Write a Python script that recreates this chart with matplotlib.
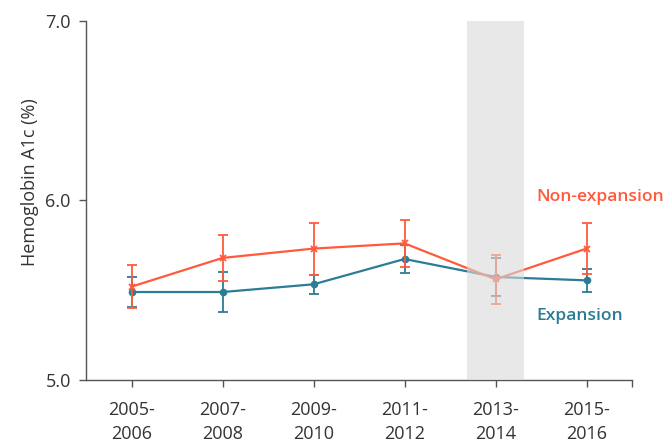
import matplotlib
matplotlib.use("Agg")
import matplotlib.pyplot as plt
import numpy as np

plt.rcParams['font.family'] = ['Open Sans', 'DejaVu Sans']

periods = ["2005-\n2006", "2007-\n2008", "2009-\n2010", "2011-\n2012", "2013-\n2014", "2015-\n2016"]

expansion = [5.49, 5.49, 5.533, 5.674, 5.574, 5.555]
expansion_err = [0.085, 0.11, 0.054, 0.08, 0.107, 0.065]

non_expansion = [5.52, 5.68, 5.732, 5.761, 5.561, 5.732]
non_expansion_err = [0.12, 0.127, 0.145, 0.132, 0.138, 0.14]

highlight_period = 4

orange = "#FF5A3C"
teal = "#2B7C94"

fig = plt.figure(figsize=(6.7, 4.42), dpi=100)
ax = fig.add_axes([0.1284, 0.1403, 0.8149, 0.8122])

x = np.arange(len(periods))

ax.errorbar(x, expansion, yerr=expansion_err, color=teal, lw=1.6,
            marker='o', ms=4.5, capsize=3.5, elinewidth=1.3, capthick=1.3, zorder=3)
ax.errorbar(x, non_expansion, yerr=non_expansion_err, color=orange, lw=1.6,
            marker='x', ms=5, mew=1.3, capsize=3.5, elinewidth=1.3, capthick=1.3, zorder=4)

ax.axvspan(highlight_period - 0.313, highlight_period + 0.313, ymin=0, ymax=1,
           color='#D9D9D9', alpha=0.6, lw=0, zorder=5)

ax.text(4.45, 6.02, "Non-expansion", color=orange, fontsize=12.6,
        fontweight='semibold', va='center', ha='left')
ax.text(4.45, 5.357, "Expansion", color=teal, fontsize=12.6,
        fontweight='semibold', va='center', ha='left')

ax.set_xlim(-0.5, 5.5)
ax.set_ylim(5.0, 7.0)
ax.set_xticks(list(x) + [5.5])
ax.set_xticklabels(periods + [""], fontsize=13, color='#333333', linespacing=1.45)
ax.set_yticks([5.0, 6.0, 7.0])
ax.set_yticklabels(["5.0", "6.0", "7.0"], fontsize=13, color='#333333')
ax.set_ylabel("Hemoglobin A1c (%)", fontsize=13, color='#333333')
ax.yaxis.set_label_coords(-0.087, 0.552)

for side in ['top', 'right']:
    ax.spines[side].set_visible(False)
for side in ['left', 'bottom']:
    ax.spines[side].set_color('#555555')
    ax.spines[side].set_linewidth(1.0)
ax.tick_params(axis='both', colors='#555555', length=5, width=1.0, labelcolor='#333333')
ax.tick_params(axis='x', pad=10)
ax.tick_params(axis='y', pad=6)

fig.savefig("out.png", dpi=100)
